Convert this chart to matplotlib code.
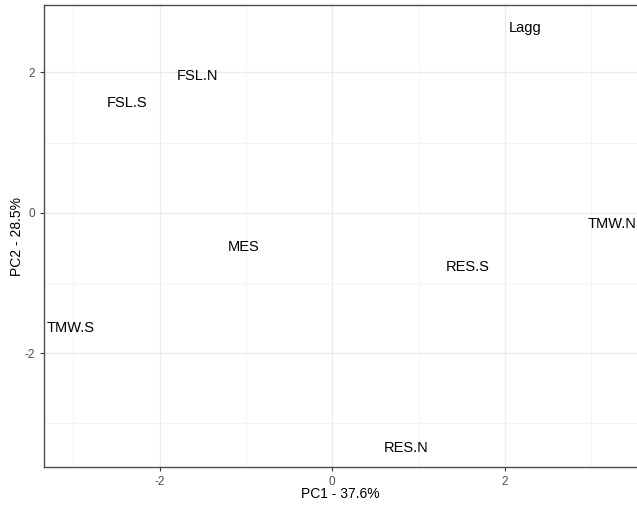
import matplotlib
matplotlib.use("Agg")
import matplotlib.pyplot as plt
from matplotlib.ticker import MultipleLocator

labels = ["Lagg", "FSL.N", "FSL.S", "MES", "TMW.N", "TMW.S", "RES.S", "RES.N"]
pc1 = [2.23, -1.56, -2.38, -1.03, 3.24, -3.03, 1.57, 0.86]
pc2 = [2.63, 1.95, 1.56, -0.48, -0.16, -1.64, -0.77, -3.35]

plt.rcParams['font.family'] = ['Liberation Sans', 'DejaVu Sans']
plt.rcParams['axes.unicode_minus'] = False

fig = plt.figure(figsize=(6.37, 5.08), dpi=100)
ax = fig.add_axes([44/637, 41/508, 1 - 44/637, (467-5)/508])

for lab, x, y in zip(labels, pc1, pc2):
    ax.text(x, y, lab, ha='center', va='center', fontsize=10.5, color='black')

ax.set_xlim(-3.34, 3.53)
ax.set_ylim(-3.62, 2.96)
ax.xaxis.set_major_locator(MultipleLocator(2))
ax.yaxis.set_major_locator(MultipleLocator(2))
ax.xaxis.set_minor_locator(MultipleLocator(1))
ax.yaxis.set_minor_locator(MultipleLocator(1))
ax.grid(which='major', color='#EBEBEB', linewidth=1.0)
ax.grid(which='minor', color='#F2F2F2', linewidth=0.6)
ax.set_axisbelow(True)
ax.tick_params(which='minor', length=0)
ax.tick_params(which='major', length=3, color='#333333', labelsize=8.5, labelcolor='#4D4D4D', width=0.8)
for s in ['left', 'bottom', 'top']:
    ax.spines[s].set_color('#4D4D4D')
    ax.spines[s].set_linewidth(1.0)
ax.spines['right'].set_visible(False)

ax.set_xlabel("PC1 - 37.6%", fontsize=10)
ax.set_ylabel("PC2 - 28.5%", fontsize=10)
ax.xaxis.set_label_coords(0.5, -0.058)
ax.yaxis.set_label_coords(-0.045, 0.5)
ax.xaxis.label.set_va('center')
ax.yaxis.label.set_va('center')

fig.savefig("out.png", dpi=100)
